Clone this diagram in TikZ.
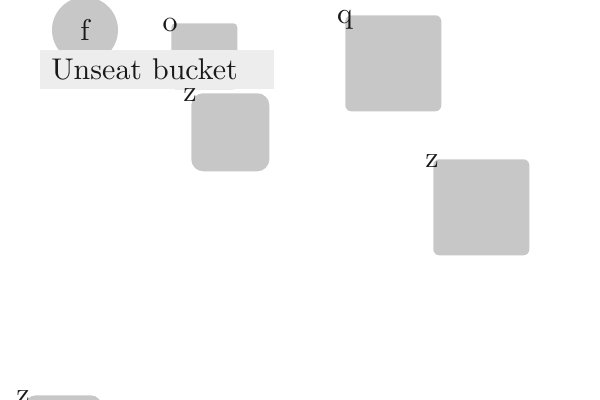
\documentclass[tikz,border=0pt]{standalone}
\usepackage{graphicx}
\usepackage{tikz}
\usetikzlibrary{
	calc,
	positioning,
	shapes,
}
\tikzset{default box/.style={
	fill=black!22,
	draw=none,
	inner sep=0mm,
	anchor=north west,
}}
\newcommand{\lbl}[1]{\scalebox{2.13}{#1}}

\begin{document}
\begin{tikzpicture}[
x=0.025cm, y=-0.025cm,
]
\useasboundingbox (0,0) rectangle (600,400);

\tikzset{
	big/.style={font=\fontsize{10}{12}\selectfont, text=black!90},
	sq/.style 2 args={default box, minimum width=#1, minimum height=#1, rounded corners=#2},
	tag/.style={big, anchor=base, inner sep=0mm},
	banner/.style={big, fill=black!7, anchor=north west, inner ysep=0mm, inner xsep=0.275cm,
		minimum height=0.975cm, text width=5.3cm, align=left},
}

\node(f)[big, circle, fill=black!22, minimum size=1.65cm, inner sep=0mm] at(85,30) {\lbl{f}};

\begin{scope}
\node(o)[sq={1.65cm}{0.1cm}]		at(171,23)	{};
\node(z1)[sq={1.95cm}{0.3cm}]	at(191,93)	{};
\node(q)[sq={2.4cm}{0.15cm}]		at(345,15)	{};
\node(z2)[sq={2.4cm}{0.15cm}]	at(433,159)	{};
\node(z3)[sq={1.95cm}{0.3cm}]	at(24,395)	{};
\end{scope}

\node(unseat)[banner] at(40,50) {\lbl{Unseat bucket}};

\begin{scope}[every node/.style={tag}]
\node(o tag)	at($(o.north west)+(-1,9)$)		{\lbl{o}};
\node(z1 tag)	at($(z1.north west)+(-1,9)$)	{\lbl{z}};
\node(q tag)	at($(q.north west)+(0,9)$)		{\lbl{q}};
\node(z2 tag)	at($(z2.north west)+(-1,9)$)	{\lbl{z}};
\node(z3 tag)	at($(z3.north west)+(-1,9)$)	{\lbl{z}};
\end{scope}

\end{tikzpicture}
\end{document}
